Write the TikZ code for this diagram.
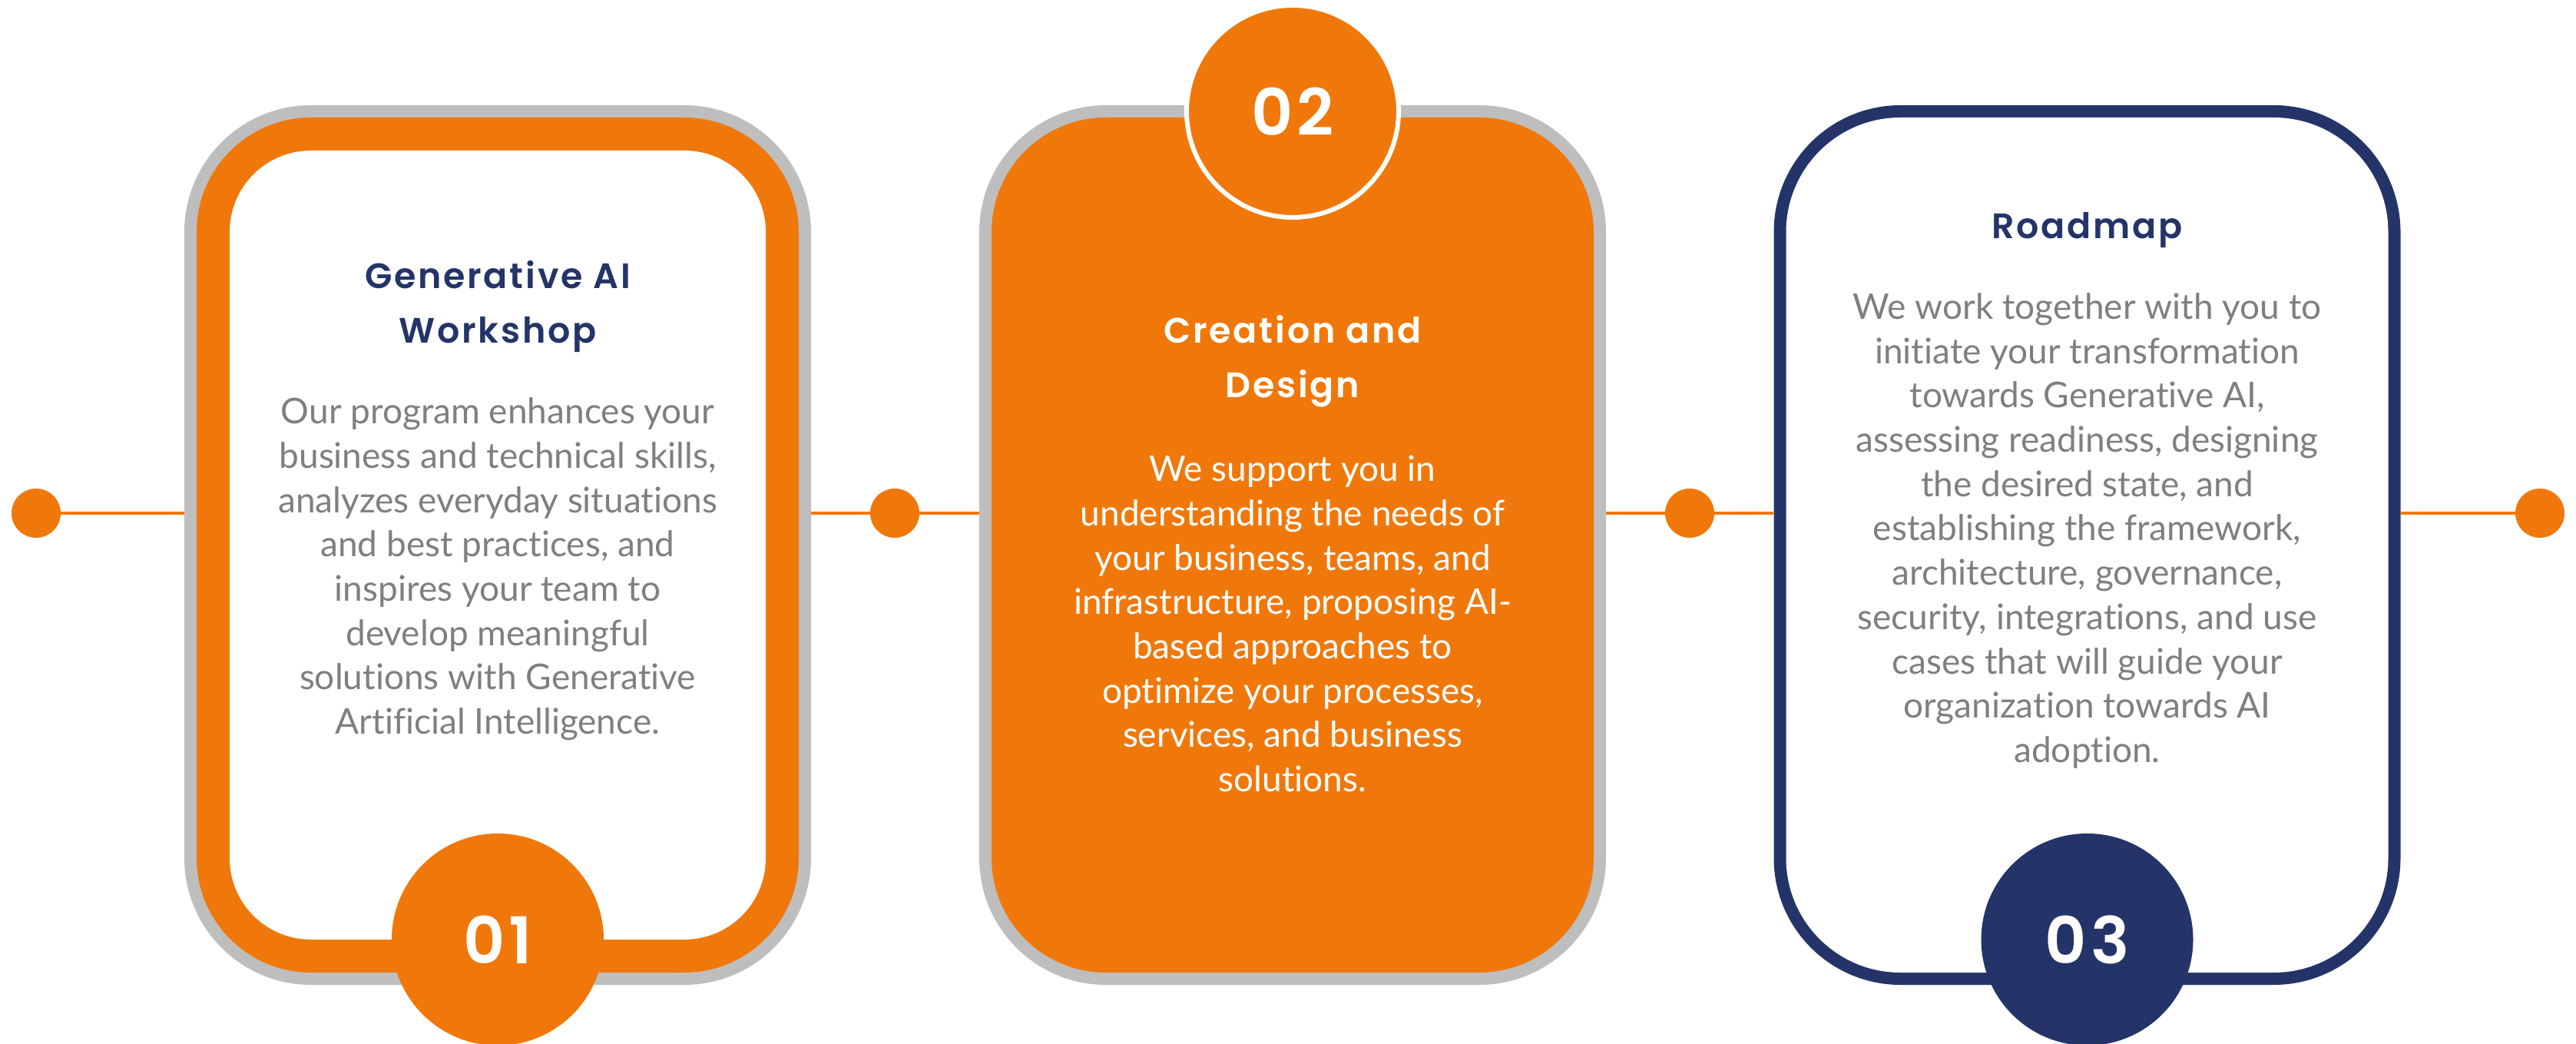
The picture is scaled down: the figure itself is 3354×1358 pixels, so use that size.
\documentclass[tikz,border=0pt]{standalone}
\usepackage{fontspec}
\setmainfont{Lato}[Ligatures=CommonOff]
\newfontfamily\headfont{Poppins SemiBold}[LetterSpace=6]
\usetikzlibrary{positioning}

\definecolor{brandorange}{RGB}{240,120,10}
\definecolor{framegray}{RGB}{190,190,190}
\definecolor{navyblue}{RGB}{36,52,105}
\definecolor{bodygray}{RGB}{127,127,127}

\tikzset{
  outerframe/.style={rectangle, rounded corners=165pt, inner sep=0pt,
    minimum width=816pt, minimum height=1145pt},
  innerframe/.style={rectangle, rounded corners=149pt, inner sep=0pt,
    minimum width=784pt, minimum height=1113pt},
  whitecore/.style={rectangle, rounded corners=106pt, inner sep=0pt,
    minimum width=698pt, minimum height=1027pt, fill=white},
  numdisc/.style={circle, inner sep=0pt, minimum size=276pt, text=white,
    font=\headfont\fontsize{84}{84}\selectfont},
  stepdot/.style={circle, inner sep=0pt, minimum size=64pt, fill=brandorange},
  link/.style={line width=4pt, brandorange},
  headline/.style={align=center, text=navyblue,
    font=\headfont\fontsize{46}{71}\selectfont},
  bodytext/.style={align=center, text=bodygray,
    font=\fontsize{46}{57.7}\selectfont}
}

\begin{document}
\begin{tikzpicture}[x=1pt,y=1pt]
    \useasboundingbox (0,0) rectangle (3354,1358);
    % dots on the time line
    \node[stepdot] (dot0) at (47,690) {};
    \node[stepdot] (dot1) at (1165,690) {};
    \node[stepdot] (dot2) at (2200,690) {};
    \node[stepdot] (dot3) at (3307,690) {};
    % frames
    \node[outerframe, fill=framegray] (box1) at (648,648.5) {};
    \node[innerframe, fill=brandorange] (ring1) at (box1.center) {};
    \node[whitecore] (core1) at (box1.center) {};
    \node[outerframe, fill=framegray] (box2) at (1683,648.5) {};
    \node[innerframe, fill=brandorange] (core2) at (box2.center) {};
    \node[outerframe, fill=navyblue] (box3) at (2717.5,648.5) {};
    \node[innerframe, fill=white] (core3) at (box3.center) {};
    % time line pieces
    \draw[link] (dot0) -- (dot0 -| box1.west);
    \draw[link] (box1.east |- dot1) -- (dot1) -- (dot1 -| box2.west);
    \draw[link] (box2.east |- dot2) -- (dot2) -- (dot2 -| box3.west);
    \draw[link] (box3.east |- dot3) -- (dot3);
    % number discs
    \node[numdisc, fill=brandorange] (num1) at (648,135) {01};
    \node[numdisc, fill=brandorange, draw=white, line width=6pt] (num2) at (1683,1213) {02};
    \node[numdisc, fill=navyblue] (num3) at (2717.5,135) {03};
    % texts
    \node[headline] (title1) at (648,959) {Generative AI\\Workshop};
    \node[bodytext] (text1) at (648,617) {Our program enhances your\\
      business and technical skills,\\analyzes everyday situations\\
      and best practices, and\\inspires your team to\\develop meaningful\\
      solutions with Generative\\Artificial Intelligence.};
    \node[headline, text=white] (title2) at (1683,888) {Creation and\\Design};
    \node[bodytext, text=white] (text2) at (1683,546) {We support you in\\
      understanding the needs of\\your business, teams, and\\
      infrastructure, proposing AI-\\based approaches to\\
      optimize your processes,\\services, and business\\solutions.};
    \node[headline] (title3) at (2717.5,1058) {Roadmap};
    \node[bodytext] (text3) at (2717.5,667) {We work together with you to\\
      initiate your transformation\\towards Generative AI,\\
      assessing readiness, designing\\the desired state, and\\
      establishing the framework,\\architecture, governance,\\
      security, integrations, and use\\cases that will guide your\\
      organization towards AI\\adoption.};
\end{tikzpicture}
\end{document}
